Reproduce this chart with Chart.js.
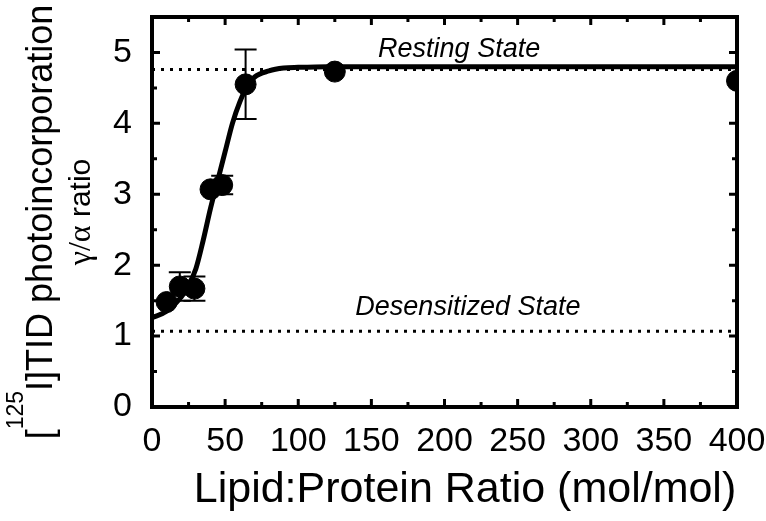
<!DOCTYPE html>
<html>
<head>
<meta charset="utf-8">
<script src="https://cdn.jsdelivr.net/npm/chart.js@4/dist/chart.umd.min.js"></script>
<style>
  html, body { margin: 0; padding: 0; background: #fff; }
  #wrap { width: 766px; height: 521px; position: relative; }
</style>
</head>
<body>
<div id="wrap"><canvas id="tid-chart"></canvas></div>
<script>
// measured points (lipid:protein ratio vs gamma/alpha photoincorporation)
const lipidRatio = [10, 19, 29, 40, 48, 64, 125, 400];
const gammaAlpha = [1.48, 1.70, 1.67, 3.07, 3.13, 4.55, 4.73, 4.60];
const errorSize = [0, 0.20, 0.17, 0, 0.13, 0.49, 0, 0];

// fitted curve
const fitX = [0, 10, 20, 25, 30, 35, 40, 45, 50, 55, 60, 65, 70, 80, 90, 100, 120, 150, 400];
const fitY = [1.26, 1.35, 1.55, 1.72, 1.95, 2.35, 2.8, 3.2, 3.6, 4.0, 4.3, 4.52, 4.65, 4.74, 4.78, 4.79, 4.8, 4.8, 4.8];

// reference states
const restingLevel = 4.76;
const desensitizedLevel = 1.07;

// axes
const xTicks = [0, 50, 100, 150, 200, 250, 300, 350, 400];
const xMinorTicks = [25, 75, 125, 175, 225, 275, 325, 375];
const yTicks = [0, 1, 2, 3, 4, 5];
const yMinorTicks = [0.5, 1.5, 2.5, 3.5, 4.5];

const SANS = '"Liberation Sans", Arial, sans-serif';

const framePlugin = {
    id: 'frame',
    afterDatasetsDraw(chart) {
        const { ctx, chartArea: a, scales: { x, y } } = chart;
        ctx.save();
        ctx.strokeStyle = '#000';
        ctx.fillStyle = '#000';

        // error bars
        ctx.lineWidth = 2;
        lipidRatio.forEach((lx, i) => {
            if (!errorSize[i]) return;
            const px = x.getPixelForValue(lx);
            const top = y.getPixelForValue(gammaAlpha[i] + errorSize[i]);
            const bot = y.getPixelForValue(gammaAlpha[i] - errorSize[i]);
            ctx.beginPath();
            ctx.moveTo(px, top); ctx.lineTo(px, bot);
            ctx.moveTo(px - 11, top); ctx.lineTo(px + 11, top);
            ctx.moveTo(px - 11, bot); ctx.lineTo(px + 11, bot);
            ctx.stroke();
        });

        // frame
        ctx.lineWidth = 4;
        ctx.strokeRect(a.left, a.top, a.right - a.left, a.bottom - a.top);

        // inward ticks
        ctx.lineWidth = 3;
        ctx.beginPath();
        const tickX = (v, len) => {
            const px = x.getPixelForValue(v);
            ctx.moveTo(px, a.bottom); ctx.lineTo(px, a.bottom - len);
            ctx.moveTo(px, a.top); ctx.lineTo(px, a.top + len);
        };
        const tickY = (v, len) => {
            const py = y.getPixelForValue(v);
            ctx.moveTo(a.left, py); ctx.lineTo(a.left + len, py);
            ctx.moveTo(a.right, py); ctx.lineTo(a.right - len, py);
        };
        xTicks.forEach(v => tickX(v, 8));
        xMinorTicks.forEach(v => tickX(v, 5));
        yTicks.forEach(v => tickY(v, 8));
        yMinorTicks.forEach(v => tickY(v, 5));
        ctx.stroke();

        // state labels
        ctx.font = 'italic 27px ' + SANS;
        ctx.textAlign = 'center';
        ctx.textBaseline = 'alphabetic';
        ctx.fillText('Resting State', x.getPixelForValue(210), y.getPixelForValue(4.94));
        ctx.fillText('Desensitized State', x.getPixelForValue(216), y.getPixelForValue(1.30));

        // x axis title
        ctx.font = '43px ' + SANS;
        ctx.fillText('Lipid:Protein Ratio (mol/mol)', 465, 502);

        // y axis title, two rotated lines
        ctx.save();
        ctx.translate(52, 222);
        ctx.rotate(-Math.PI / 2);
        ctx.textAlign = 'left';
        const big = '36px ' + SANS, small = '23px ' + SANS;
        ctx.font = big;
        const w1 = ctx.measureText('[').width;
        const w3 = ctx.measureText('I]TID photoincorporation').width;
        ctx.font = small;
        const w2 = ctx.measureText('125').width;
        let sx = -(w1 + w2 + w3) / 2;
        ctx.font = big;
        ctx.fillText('[', sx, 0);
        sx += w1;
        ctx.font = small;
        ctx.fillText('125', sx, -29);
        sx += w2;
        ctx.font = big;
        ctx.fillText('I]TID photoincorporation', sx, 0);
        ctx.restore();

        ctx.save();
        ctx.translate(90, 212);
        ctx.rotate(-Math.PI / 2);
        ctx.textAlign = 'left';
        const greek = '32px "Liberation Serif", "DejaVu Serif", serif';
        const word = '30px ' + SANS;
        ctx.font = greek;
        const g = ctx.measureText('\u03b3/\u03b1').width;
        ctx.font = word;
        const r = ctx.measureText(' ratio').width;
        let gx = -(g + r) / 2;
        ctx.font = greek;
        ctx.fillText('\u03b3/\u03b1', gx, 0);
        ctx.font = word;
        ctx.fillText(' ratio', gx + g, 0);
        ctx.restore();

        ctx.restore();
    },
};

new Chart(document.getElementById('tid-chart'), {
    type: 'scatter',
    data: {
        datasets: [
            {
                label: 'Resting',
                data: [{ x: 0, y: restingLevel }, { x: 400, y: restingLevel }],
                showLine: true,
                borderColor: '#000',
                borderWidth: 3,
                borderDash: [3, 6],
                pointRadius: 0,
            },
            {
                label: 'Desensitized',
                data: [{ x: 0, y: desensitizedLevel }, { x: 400, y: desensitizedLevel }],
                showLine: true,
                borderColor: '#000',
                borderWidth: 3,
                borderDash: [3, 6],
                pointRadius: 0,
            },
            {
                label: 'Fit',
                data: fitX.map((v, i) => ({ x: v, y: fitY[i] })),
                showLine: true,
                borderColor: '#000',
                borderWidth: 5,
                cubicInterpolationMode: 'monotone',
                pointRadius: 0,
            },
            {
                label: 'Data',
                data: lipidRatio.map((v, i) => ({ x: v, y: gammaAlpha[i] })),
                backgroundColor: '#000',
                borderColor: '#000',
                pointRadius: 10.5,
            },
        ],
    },
    options: {
        responsive: true,
        maintainAspectRatio: false,
        animation: false,
        layout: {
            padding: { left: 0, top: 17, right: 29, bottom: 0 },
        },
        plugins: {
            legend: { display: false },
            tooltip: { enabled: false },
        },
        scales: {
            x: {
                type: 'linear',
                min: 0,
                max: 400,
                grid: { display: false },
                border: { display: false },
                afterFit: (s) => { s.height = 114; s.paddingLeft = 0; s.paddingRight = 0; },
                afterBuildTicks: (s) => { s.ticks = xTicks.map(v => ({ value: v })); },
                ticks: {
                    color: '#000',
                    padding: 6,
                    maxRotation: 0,
                    autoSkip: false,
                    font: { family: SANS, size: 34 },
                },
            },
            y: {
                type: 'linear',
                min: 0,
                max: 5.5,
                grid: { display: false },
                border: { display: false },
                afterFit: (s) => { s.width = 152; s.paddingTop = 0; s.paddingBottom = 0; },
                afterBuildTicks: (s) => { s.ticks = yTicks.map(v => ({ value: v })); },
                ticks: {
                    color: '#000',
                    padding: 12,
                    font: { family: SANS, size: 34 },
                },
            },
        },
    },
    plugins: [framePlugin],
});
</script>
</body>
</html>
